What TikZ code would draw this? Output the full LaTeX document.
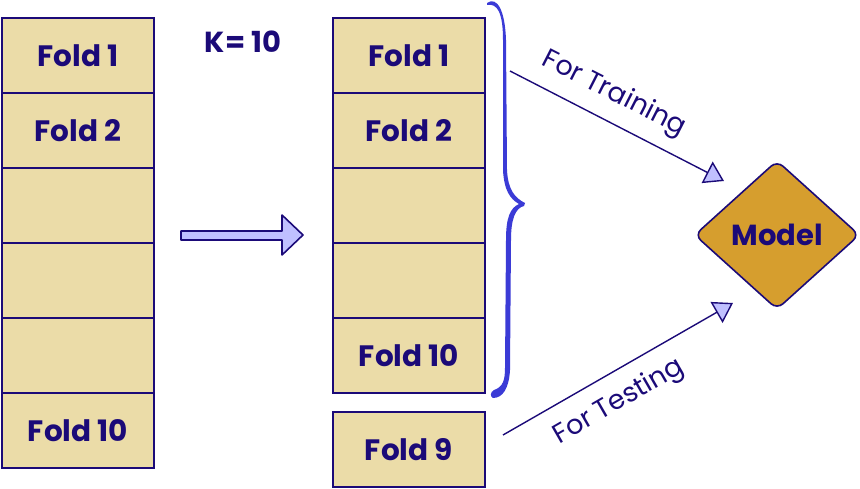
\documentclass[tikz,border=0pt]{standalone}
\usepackage{fontspec}
\setmainfont{Poppins}
\usetikzlibrary{arrows.meta,shapes.geometric}
\definecolor{ink}{HTML}{1B0A78}
\definecolor{foldfill}{HTML}{EBDCA8}
\definecolor{modelfill}{HTML}{D69E2E}
\definecolor{arrowfill}{HTML}{C0C0FF}
\definecolor{bracecol}{HTML}{3B3BD6}
\tikzset{
  foldbox/.style={draw=ink,line width=2pt,fill=foldfill,minimum width=152pt,minimum height=75pt,inner sep=0pt,anchor=north west,font=\fontsize{29.5}{32}\selectfont\bfseries,text=ink},
  conn/.style={draw=ink,line width=1.4pt,-{Triangle[width=24pt,length=19pt,fill=arrowfill,line width=1.4pt]}},
  lbl/.style={font=\fontsize{27}{30}\selectfont,text=ink,inner sep=0pt},
}
\begin{document}
\begin{tikzpicture}[x=1pt,y=-1pt]
\useasboundingbox (0,0) rectangle (860,489);
% left column
\node[foldbox] (l1) at (1,17) {Fold 1};
\node[foldbox] (l2) at (1,92) {Fold 2};
\node[foldbox] (l3) at (1,167) {};
\node[foldbox] (l4) at (1,242) {};
\node[foldbox] (l5) at (1,317) {};
\node[foldbox] (l6) at (1,392) {Fold 10};
% K label
\node[font=\fontsize{29}{32}\selectfont\bfseries,text=ink] (k) at (243,42) {K= 10};
% block arrow
\draw[ink,line width=1.6pt,fill=arrowfill,line join=round] (181,231) -- (282,231) -- (282,215) -- (303,235) -- (282,255) -- (282,240) -- (181,240) -- cycle;
% middle column
\node[foldbox] (m1) at (332,17) {Fold 1};
\node[foldbox] (m2) at (332,92) {Fold 2};
\node[foldbox] (m3) at (332,167) {};
\node[foldbox] (m4) at (332,242) {};
\node[foldbox] (m5) at (332,317) {Fold 10};
\node[foldbox] (m9) at (332,411) {Fold 9};
% brace
\fill[bracecol] (487,3) .. controls (497,-4) and (505,10) .. (506,40)
  -- (507,170) .. controls (508,190) and (515,198) .. (525,203)
  -- (524,206) .. controls (515,208) and (511,220) .. (511,240)
  -- (510,370) .. controls (509,388) and (503,398) .. (493,398)
  .. controls (490,397) and (490,392) .. (494,390)
  .. controls (503,387) and (505,380) .. (505,368)
  -- (506,240) .. controls (506,218) and (510,208) .. (519,204)
  .. controls (510,199) and (504,190) .. (503,170)
  -- (503,40) .. controls (503,12) and (497,3) .. (487,5) -- cycle;
% model
\node[diamond,draw=ink,line width=1.6pt,fill=modelfill,rounded corners=8pt,minimum width=165pt,minimum height=149pt,inner sep=0pt,aspect=1.1,font=\fontsize{29}{32}\selectfont\bfseries,text=ink] (model) at (777,235) {Model};
% connectors
\coordinate (trs) at (510,71);
\coordinate (tre) at (724,181);
\coordinate (tss) at (503,435);
\coordinate (tse) at (733,303);
\draw[conn] (trs) -- (tre);
\draw[conn] (tss) -- (tse);
\node[lbl,rotate=-27] (trl) at (614,94) {For Training};
\node[lbl,rotate=30] (tsl) at (619,402) {For Testing};
\end{tikzpicture}
\end{document}
